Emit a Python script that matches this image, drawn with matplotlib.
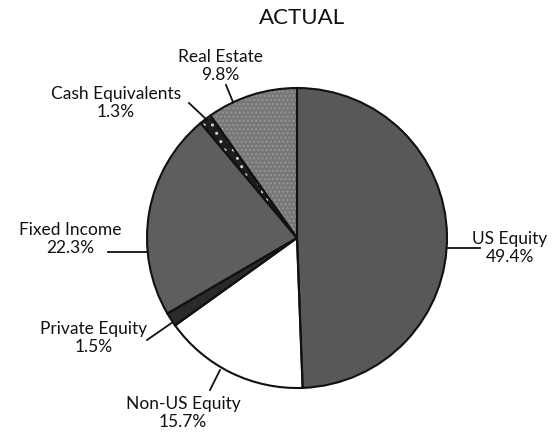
import matplotlib.pyplot as plt

plt.rcParams['font.family'] = ['Lato', 'DejaVu Sans']

labels = ['US Equity', 'Non-US Equity', 'Private Equity', 'Fixed Income',
          'Cash Equivalents', 'Real Estate']
shares = [49.4, 15.7, 1.5, 22.3, 1.3, 9.8]
colors = ['#585858', '#ffffff', '#2a2a2a', '#5e5e5e', '#1e1e1e', '#777777']
hatches = [None, None, None, None, '..', '....']
hatch_colors = [None, None, None, None, '#d0d0d0', '#959595']

# label block centres and leader lines, pixel coords (y down)
label_pos = [(510, 248), (183, 413), (94, 338), (70, 239), (116, 103), (220, 66)]
leaders = [((447, 248), (480, 248)), ((220, 370), (210, 390)),
           ((173, 322), (147, 340)), ((147, 252), (108, 252)),
           ((207, 120), (189, 103)), ((233, 102), (226, 85))]

W, H = 560, 440
fig = plt.figure(figsize=(5.6, 4.4), dpi=100)
ax = fig.add_axes([0, 0, 1, 1])

center = (297, H - 238)
wedges, _ = ax.pie(shares, colors=colors, startangle=90, counterclock=False,
                   center=center, radius=150,
                   wedgeprops=dict(linewidth=0))
for w, h, hc in zip(wedges, hatches, hatch_colors):
    if h:
        w.set_hatch(h)
        w.set_edgecolor(hc)
# outlines
ax.pie(shares, colors=['none'] * len(shares), startangle=90, counterclock=False,
       center=center, radius=150,
       wedgeprops=dict(linewidth=1.5, edgecolor='#111111', fill=False))

for lab, val, (x, y) in zip(labels, shares, label_pos):
    ax.text(x, H - y, '%s\n%.1f%%' % (lab, val), ha='center', va='center',
            fontsize=12.5, color='#111111', linespacing=1.15)

for (x0, y0), (x1, y1) in leaders:
    ax.plot([x0, x1], [H - y0, H - y1], color='#111111', lw=1.3)

ax.text(302, H - 18, 'ACTUAL', ha='center', va='center', fontsize=16,
        color='#111111')

ax.set_xlim(0, W)
ax.set_ylim(0, H)
ax.set_aspect('equal')
ax.axis('off')

fig.savefig('out.png', dpi=100)
